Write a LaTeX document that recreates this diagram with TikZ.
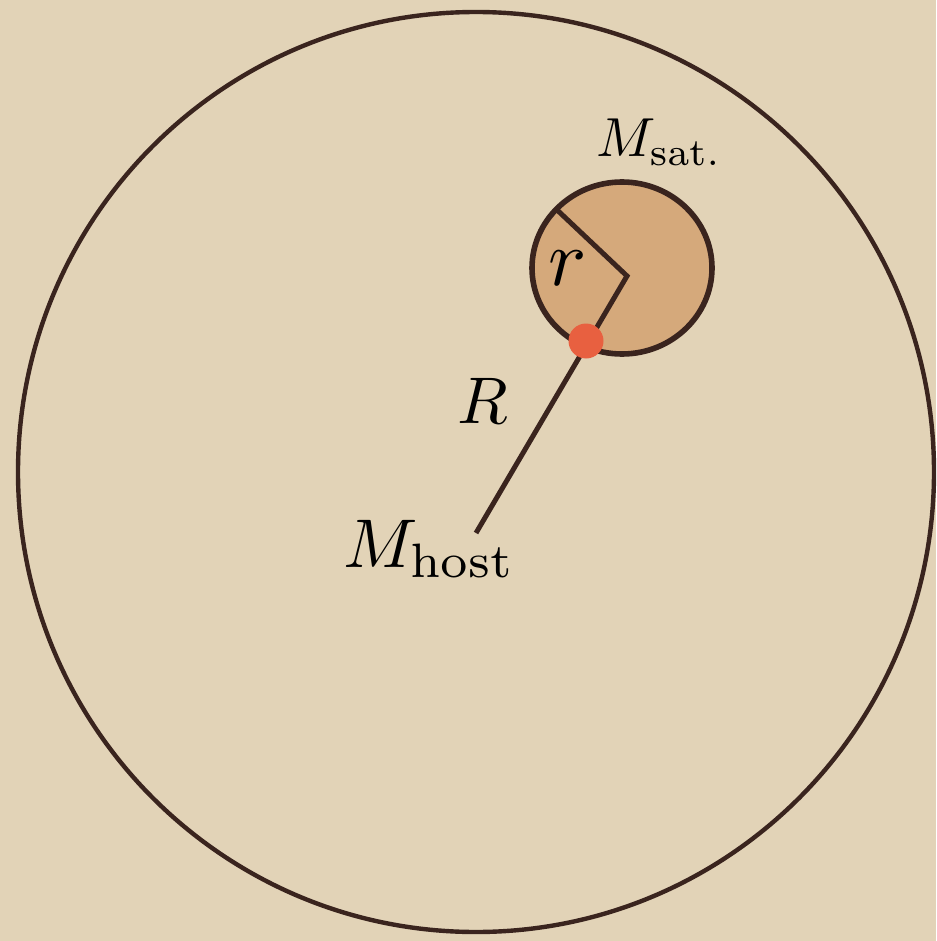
\documentclass[tikz,border=0pt]{standalone}
\usepackage{graphicx}
\definecolor{paper}{RGB}{226,211,183}
\definecolor{ink}{RGB}{58,36,30}
\definecolor{satfill}{RGB}{213,169,123}
\definecolor{dotred}{RGB}{232,96,64}
\tikzset{
  outline/.style={draw=ink, line width=2.2pt},
  satline/.style={draw=ink, line width=2.8pt},
  seg/.style={draw=ink, line width=2.5pt},
  lab/.style={inner sep=0pt, anchor=base west, text=black},
}
\begin{document}
\begin{tikzpicture}[x=0.5pt, y=-0.5pt]
\fill[paper] (0,0) rectangle (936,941);
\useasboundingbox (0,0) rectangle (936,941);
\coordinate (hostc) at (476,472);
\coordinate (satc) at (622,268);
\coordinate (corner) at (627,276);
\coordinate (rend) at (555,208);
\coordinate (hostend) at (476,533);
\draw[outline] (hostc) ellipse [x radius=458, y radius=460];
\draw[satline, fill=satfill] (satc) ellipse [x radius=90, y radius=86];
\draw[seg] (rend) -- (corner) -- (hostend);
\node[circle, fill=dotred, minimum size=17.5pt, inner sep=0pt] (dot) at (586,341) {};
\node[lab] (mhost) at (343,567) {\scalebox{3.45}{$M_{\mathrm{host}}$}};
\node[lab] (Rlab) at (457,423) {\scalebox{3.3}{$R$}};
\node[lab] (rlab) at (548,285) {\scalebox{4.0}{$r$}};
\node[lab] (msat) at (596,157) {\scalebox{2.75}{$M_{\mathrm{sat.}}$}};
\end{tikzpicture}
\end{document}
